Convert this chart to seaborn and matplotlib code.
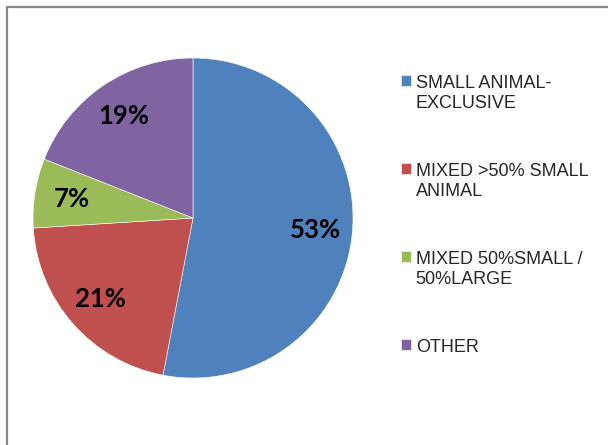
import matplotlib
matplotlib.use("Agg")
import matplotlib.pyplot as plt
import matplotlib.patches as mpatches
import seaborn as sns

# dades del gràfic
categories = ["SMALL ANIMAL-\nEXCLUSIVE", "MIXED >50% SMALL\nANIMAL",
              "MIXED 50%SMALL /\n50%LARGE", "OTHER"]
percentatges = [53, 21, 7, 19]
colors = ["#4F81BD", "#C0504D", "#9BBB59", "#8064A2"]

sns.set_style("white")
plt.rcParams['font.family'] = ['Liberation Sans', 'DejaVu Sans']

W, H = 608, 445
fig = plt.figure(figsize=(W / 100, H / 100), dpi=100)

# marc gris de l'àrea del gràfic
marc = mpatches.Rectangle((6.5 / W, -0.1), 1.2, 1.1 - 6.5 / H,
                          transform=fig.transFigure, fill=False,
                          edgecolor="#888888", linewidth=1.6)
fig.patches.append(marc)

cx, cy, r = 193, 218, 160
ax = fig.add_axes([(cx - r) / W, (H - cy - r) / H, 2 * r / W, 2 * r / H])
wedges, texts, autotexts = ax.pie(
    percentatges, colors=colors, startangle=90, counterclock=False,
    autopct=lambda p: f"{p:.0f}%", pctdistance=0.77,
    wedgeprops=dict(edgecolor="white", linewidth=0.4),
    textprops=dict(fontsize=18.5, fontweight="bold", fontstyle="normal",
                   family="Lato", color="black"))
ax.set_xlim(-1, 1)
ax.set_ylim(-1, 1)
ax.set_axis_off()

leg = fig.legend(wedges, categories, loc="upper left",
                 bbox_to_anchor=(385 / W, 1 - 59 / H), frameon=False,
                 fontsize=13, handlelength=0.55, handleheight=0.55,
                 handletextpad=0.25, labelspacing=2.85)
# el quadret s'alinea amb la primera línia del text
for columna in leg._legend_handle_box.get_children():
    for item in columna.get_children():
        item.align = "top"

fig.savefig("out.png", dpi=100)
